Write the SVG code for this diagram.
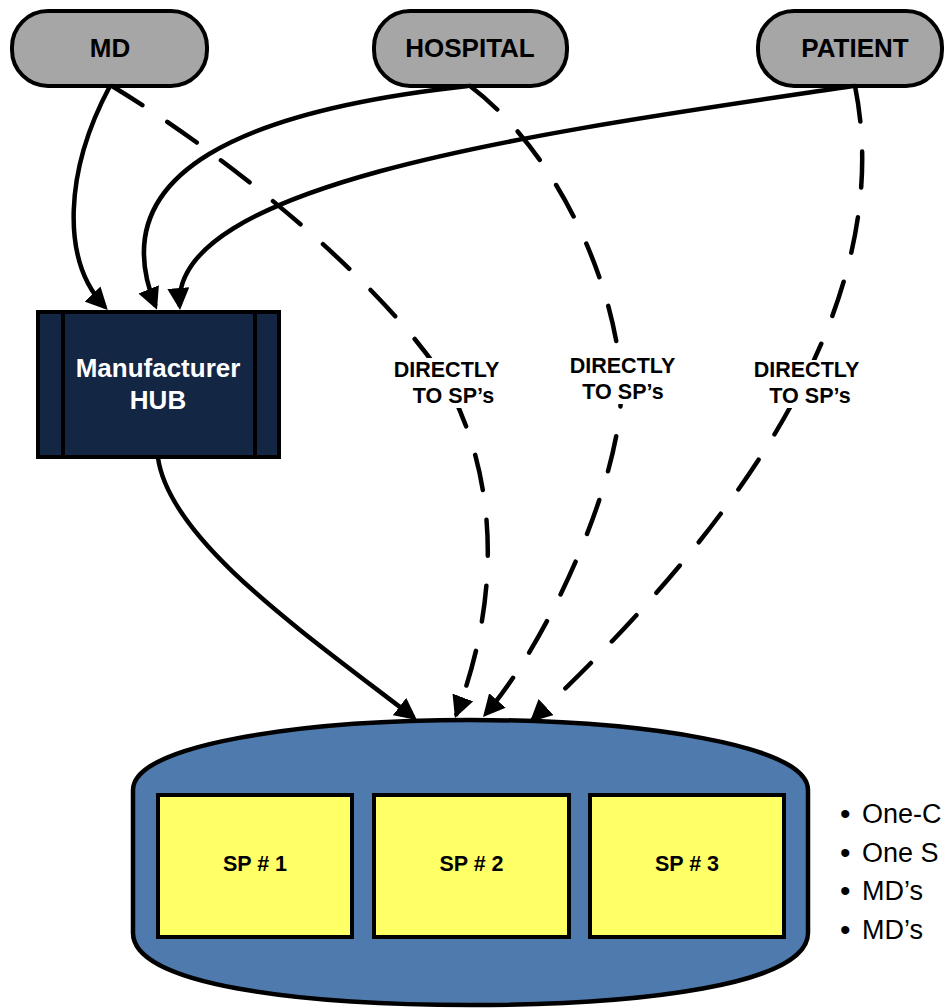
<svg xmlns="http://www.w3.org/2000/svg" width="944" height="1008" viewBox="0 0 944 1008">
  <defs>
    <marker id="arrow" viewBox="0 0 22 22" refX="18" refY="11" markerWidth="22" markerHeight="22" markerUnits="userSpaceOnUse" orient="auto">
      <path d="M0,0 L22,11 L0,22 Z" fill="#000"/>
    </marker>
    <style>
      .source rect { fill: #a6a6a6; stroke: #000; stroke-width: 4; }
      .source text { font-family: "Liberation Sans", Arial, sans-serif; font-weight: bold; font-size: 26px; fill: #000; text-anchor: middle; }
      .hub rect { fill: #132644; stroke: #000; stroke-width: 4; }
      .hub line { stroke: #000; stroke-width: 4; }
      .hub text { font-family: "Liberation Sans", Arial, sans-serif; font-weight: bold; font-size: 26px; fill: #fff; text-anchor: middle; }
      .sp rect { fill: #ffff66; stroke: #000; stroke-width: 4; }
      .sp text { font-family: "Liberation Sans", Arial, sans-serif; font-weight: bold; font-size: 21.5px; fill: #000; text-anchor: middle; }
      .link { fill: none; stroke: #000; stroke-width: 4.5; marker-end: url(#arrow); }
      .direct { stroke-dasharray: 36 30; stroke-linecap: round; }
      .lbl rect { fill: #fff; }
      .lbl text { font-family: "Liberation Sans", Arial, sans-serif; font-weight: bold; font-size: 21.5px; fill: #000; text-anchor: middle; }
      .notes text { font-family: "Liberation Sans", Arial, sans-serif; font-size: 27px; fill: #000; }
      .notes .dot { font-size: 30px; }
    </style>
  </defs>

  <rect width="944" height="1008" fill="#fff"/>

  <!-- specialty pharmacy network -->
  <g id="sp-network">
    <path d="M133,790 C133,745 300,720 470,720 C640,720 808,745 808,790 L808,933 C808,985 640,1005 470,1005 C300,1005 133,985 133,933 Z" fill="#4f7aad" stroke="#000" stroke-width="4.5"/>
  </g>
  <g id="sp1" class="sp">
    <rect x="158" y="795" width="194" height="142"/>
    <text x="255" y="871">SP # 1</text>
  </g>
  <g id="sp2" class="sp">
    <rect x="374" y="795" width="195" height="142"/>
    <text x="471.5" y="871">SP # 2</text>
  </g>
  <g id="sp3" class="sp">
    <rect x="590" y="795" width="194" height="142"/>
    <text x="687" y="871">SP # 3</text>
  </g>

  <!-- manufacturer hub -->
  <g id="hub" class="hub">
    <rect x="38" y="312" width="241" height="145"/>
    <line x1="63" y1="312" x2="63" y2="457"/>
    <line x1="255" y1="312" x2="255" y2="457"/>
    <text x="158" y="377">Manufacturer</text>
    <text x="158" y="409">HUB</text>
  </g>

  <!-- referral sources -->
  <g id="md" class="source">
    <rect x="12" y="11" width="195" height="75" rx="36" ry="36"/>
    <text x="110" y="57">MD</text>
  </g>
  <g id="hospital" class="source">
    <rect x="374" y="11" width="193" height="75" rx="36" ry="36"/>
    <text x="470" y="57">HOSPITAL</text>
  </g>
  <g id="patient" class="source">
    <rect x="758" y="11" width="184" height="75" rx="36" ry="36"/>
    <text x="855" y="57">PATIENT</text>
  </g>

  <!-- connectors -->
  <g id="connectors">
    <path class="link" d="M110,86 C65,170 60,260 105,307"/>
    <path class="link" d="M468,86 C250,110 100,170 155.5,306"/>
    <path class="link" d="M853,86 C560,130 170,180 179.7,306"/>
    <path class="link" d="M158,458 C170,540 300,630 413.8,717.6"/>
    <path class="link direct" d="M112,86 C230,158 380,280 445,380 C500,480 500,600 456.4,714.3"/>
    <path class="link direct" d="M470,86 C555,150 615,280 621,380 C626,470 550,640 485.6,714"/>
    <path class="link direct" d="M855,86 C890,260 800,470 532.9,719.3"/>

    <g class="lbl">
      <rect x="391" y="358" width="112" height="50"/>
      <text x="446.5" y="377">DIRECTLY</text>
      <text x="453.5" y="403">TO SP’s</text>
    </g>
    <g class="lbl">
      <rect x="567" y="355" width="112" height="49"/>
      <text x="622.5" y="373">DIRECTLY</text>
      <text x="623" y="399">TO SP’s</text>
    </g>
    <g class="lbl">
      <rect x="752" y="360" width="110" height="48"/>
      <text x="806.5" y="377">DIRECTLY</text>
      <text x="810" y="403">TO SP’s</text>
    </g>
  </g>

  <!-- side notes, running past the right edge -->
  <g id="notes" class="notes">
    <text class="dot" x="840" y="824">•</text><text x="862" y="823">One-C</text>
    <text class="dot" x="840" y="863">•</text><text x="862" y="862">One S</text>
    <text class="dot" x="840" y="901">•</text><text x="862" y="900">MD’s</text>
    <text class="dot" x="840" y="940">•</text><text x="862" y="939">MD’s</text>
  </g>
</svg>
